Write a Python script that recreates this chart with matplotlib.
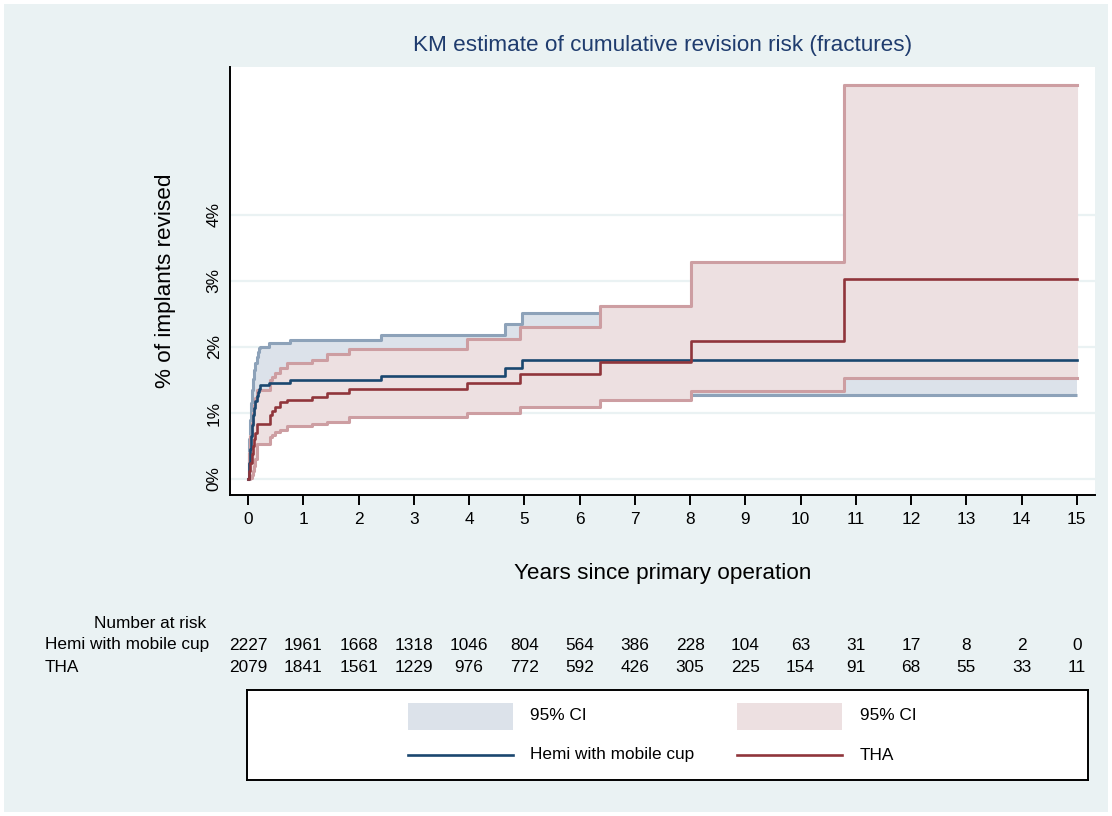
import matplotlib
matplotlib.use("Agg")
import matplotlib.pyplot as plt
from matplotlib.patches import Rectangle
from matplotlib.transforms import blended_transform_factory

plt.rcParams['font.family'] = ['Liberation Sans', 'DejaVu Sans']

# Kaplan-Meier step data (years, % revised)
hemi_t = [0, 0.01, 0.03, 0.05, 0.07, 0.09, 0.11, 0.13, 0.15, 0.17, 0.19, 0.22,
          0.37, 0.75, 2.41, 4.64, 4.95, 15]
hemi_est = [0, 0.25, 0.45, 0.65, 0.82, 0.97, 1.08, 1.18, 1.26, 1.32, 1.37, 1.42,
            1.46, 1.50, 1.56, 1.68, 1.80, 1.80]
hemi_hi = [0, 0.6, 0.9, 1.15, 1.35, 1.52, 1.65, 1.76, 1.85, 1.92, 1.98, 2.0,
           2.06, 2.11, 2.18, 2.35, 2.52, 2.52]
hemi_lo = [0, 0.03, 0.12, 0.25, 0.38, 0.5, 0.6, 0.68, 0.76, 0.82, 0.88, 0.92,
           0.96, 0.99, 1.04, 1.12, 1.28, 1.28]

tha_t = [0, 0.02, 0.04, 0.06, 0.08, 0.10, 0.12, 0.15, 0.40, 0.43, 0.49, 0.58,
         0.71, 1.15, 1.43, 1.83, 3.96, 4.92, 6.37, 8.02, 10.79, 15]
tha_est = [0, 0.12, 0.25, 0.38, 0.5, 0.6, 0.7, 0.83, 0.97, 1.03, 1.09, 1.16,
           1.20, 1.24, 1.31, 1.36, 1.46, 1.585, 1.77, 2.09, 3.03, 3.03]
tha_hi = [0, 0.4, 0.65, 0.85, 1.0, 1.12, 1.22, 1.35, 1.5, 1.55, 1.6, 1.68,
          1.76, 1.81, 1.89, 1.97, 2.12, 2.30, 2.62, 3.28, 5.97, 5.97]
tha_lo = [0, 0.0, 0.02, 0.06, 0.12, 0.2, 0.3, 0.53, 0.64, 0.67, 0.71, 0.74,
          0.80, 0.83, 0.87, 0.94, 1.0, 1.095, 1.20, 1.33, 1.535, 1.535]

# number at risk table
risk_years = list(range(16))
hemi_risk = [2227, 1961, 1668, 1318, 1046, 804, 564, 386, 228, 104, 63, 31, 17, 8, 2, 0]
tha_risk = [2079, 1841, 1561, 1229, 976, 772, 592, 426, 305, 225, 154, 91, 68, 55, 33, 11]

y_ticks = [0, 1, 2, 3, 4]
y_ticklabels = ['0%', '1%', '2%', '3%', '4%']

BG = '#EAF2F3'
NAVY = '#1A476F'
MAROON = '#90353B'
NAVY_FILL = '#DCE2EA'
NAVY_EDGE = '#8DA2B9'
MAROON_FILL = '#EDE0E1'
MAROON_EDGE = '#CD9EA2'
FS = 12.4
FS_BIG = 16.2

W, H = 1112, 816
fig = plt.figure(figsize=(W / 100, H / 100), dpi=100, facecolor='white')
fig.patches.append(Rectangle((4 / W, 4 / H), 1 - 8 / W, 1 - 8 / H,
                             transform=fig.transFigure, facecolor=BG,
                             edgecolor='none', zorder=-10))

ax = fig.add_axes([230 / W, (H - 495) / H, (1095 - 230) / W, (495 - 67) / H])
ax.set_facecolor('white')

# confidence bands
ax.fill_between(hemi_t, hemi_lo, hemi_hi, step='post', color=NAVY_FILL, lw=0, zorder=2)
ax.step(hemi_t, hemi_hi, where='post', color=NAVY_EDGE, lw=2.2, zorder=2,
        solid_capstyle='butt')
ax.step(hemi_t, hemi_lo, where='post', color=NAVY_EDGE, lw=2.2, zorder=2,
        solid_capstyle='butt')

ax.fill_between(tha_t, tha_lo, tha_hi, step='post', facecolor=MAROON_FILL,
                edgecolor=MAROON_FILL, lw=1.5, zorder=3)
ax.step(tha_t, tha_hi, where='post', color=MAROON_EDGE, lw=2.2, zorder=3)
ax.step(tha_t, tha_lo, where='post', color=MAROON_EDGE, lw=2.2, zorder=3)

# estimates
ax.step(hemi_t, hemi_est, where='post', color=NAVY, lw=1.9, zorder=4)
ax.step(tha_t, tha_est, where='post', color=MAROON, lw=1.9, zorder=5)

ax.set_xlim(-0.33, 15.33)
ax.set_ylim(-0.242, 6.24)
ax.set_xticks(risk_years)
ax.set_yticks(y_ticks)
ax.set_yticklabels(y_ticklabels, rotation=90, va='center')
ax.tick_params(axis='x', length=7, width=1.4, pad=5, labelsize=FS, color='black')
ax.tick_params(axis='y', length=0, pad=6, labelsize=FS)
ax.grid(axis='y', color=BG, lw=1.6, zorder=0)
ax.set_axisbelow(True)
for s in ['top', 'right']:
    ax.spines[s].set_visible(False)
for s in ['left', 'bottom']:
    ax.spines[s].set_linewidth(1.4)

ax.set_ylabel('% of implants revised', fontsize=FS_BIG, va='center')
ax.yaxis.set_label_coords((165 - 230) / 865, 0.5)
ax.set_xlabel('Years since primary operation', fontsize=FS_BIG, va='center')
ax.xaxis.set_label_coords(0.5, (495 - 574) / 428)
fig.text(663 / W, 1 - 46 / H, 'KM estimate of cumulative revision risk (fractures)',
         ha='center', va='center', fontsize=FS_BIG, color='#1F3C6E')

# number at risk rows
tr = blended_transform_factory(ax.transData, fig.transFigure)
fig.text(206 / W, 1 - 624 / H, 'Number at risk', ha='right', va='center', fontsize=FS)
fig.text(45 / W, 1 - 645 / H, 'Hemi with mobile cup', ha='left', va='center', fontsize=FS)
fig.text(45 / W, 1 - 667 / H, 'THA', ha='left', va='center', fontsize=FS)
for yr, a, b in zip(risk_years, hemi_risk, tha_risk):
    fig.text(yr, 1 - 645 / H, str(a), transform=tr, ha='center', va='center', fontsize=FS)
    fig.text(yr, 1 - 667 / H, str(b), transform=tr, ha='center', va='center', fontsize=FS)

# legend box
lg = fig.add_axes([247 / W, (H - 780) / H, (1088 - 247) / W, 90 / H])
lg.set_xlim(0, 841)
lg.set_ylim(0, 90)
lg.set_xticks([])
lg.set_yticks([])
lg.set_facecolor('white')
for s in lg.spines.values():
    s.set_linewidth(1.4)
lg.add_patch(Rectangle((161, 50), 105, 27, facecolor=NAVY_FILL, edgecolor='none'))
lg.add_patch(Rectangle((490, 50), 105, 27, facecolor=MAROON_FILL, edgecolor='none'))
lg.plot([161, 266], [25, 25], color=NAVY, lw=1.9)
lg.plot([490, 595], [25, 25], color=MAROON, lw=1.9)
lg.text(283, 64, '95% CI', va='center', fontsize=FS)
lg.text(613, 64, '95% CI', va='center', fontsize=FS)
lg.text(283, 25, 'Hemi with mobile cup', va='center', fontsize=FS)
lg.text(613, 25, 'THA', va='center', fontsize=FS)

fig.savefig('out.png', dpi=100, facecolor=fig.get_facecolor())
